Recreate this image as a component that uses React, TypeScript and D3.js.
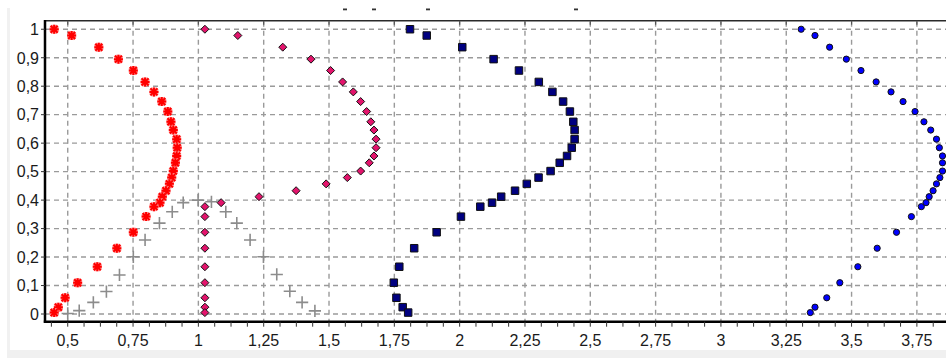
import React from 'react';
import * as d3 from 'd3';

// ---- data ----
const profileY = [1.0, 0.978, 0.937, 0.895, 0.855, 0.815, 0.78, 0.746, 0.711, 0.675, 0.646, 0.614, 0.584, 0.555, 0.531, 0.502, 0.479, 0.457, 0.433, 0.412, 0.391, 0.377, 0.342, 0.287, 0.231, 0.166, 0.11, 0.057, 0.024, 0.005];

const redStarX = [0.448, 0.515, 0.619, 0.694, 0.751, 0.796, 0.83, 0.86, 0.883, 0.895, 0.904, 0.917, 0.919, 0.917, 0.912, 0.904, 0.898, 0.889, 0.876, 0.862, 0.853, 0.83, 0.8, 0.751, 0.688, 0.613, 0.538, 0.49, 0.464, 0.448];

const diamondX = [1.025, 1.151, 1.323, 1.431, 1.506, 1.552, 1.593, 1.621, 1.644, 1.66, 1.672, 1.68, 1.68, 1.672, 1.654, 1.621, 1.57, 1.489, 1.374, 1.232, 1.087, 1.025, 1.025, 1.025, 1.025, 1.025, 1.025, 1.025, 1.025, 1.025];

const squareX = [1.81, 1.874, 2.01, 2.13, 2.227, 2.303, 2.355, 2.396, 2.422, 2.435, 2.44, 2.44, 2.429, 2.411, 2.383, 2.348, 2.302, 2.257, 2.212, 2.159, 2.124, 2.079, 2.005, 1.912, 1.826, 1.769, 1.748, 1.758, 1.782, 1.803];

const circleX = [3.307, 3.36, 3.416, 3.48, 3.536, 3.594, 3.651, 3.697, 3.743, 3.777, 3.803, 3.825, 3.836, 3.848, 3.848, 3.848, 3.838, 3.825, 3.812, 3.797, 3.785, 3.767, 3.729, 3.672, 3.598, 3.524, 3.455, 3.405, 3.36, 3.342];

const plusX = [0.5, 0.544, 0.598, 0.648, 0.698, 0.751, 0.796, 0.851, 0.9, 0.942, 0.999, 1.05, 1.105, 1.147, 1.198, 1.249, 1.3, 1.35, 1.397, 1.446];
const plusY = [0.002, 0.012, 0.041, 0.079, 0.137, 0.201, 0.26, 0.319, 0.359, 0.391, 0.4, 0.394, 0.359, 0.319, 0.26, 0.201, 0.139, 0.08, 0.041, 0.011];

const xTicks = [0.5, 0.75, 1, 1.25, 1.5, 1.75, 2, 2.25, 2.5, 2.75, 3, 3.25, 3.5, 3.75, 4];
const yTicks = [0, 0.1, 0.2, 0.3, 0.4, 0.5, 0.6, 0.7, 0.8, 0.9, 1];

const fmt = (v: number) => String(v).replace('.', ',');

// custom marker shapes for d3.symbol
const starType = {
  draw(ctx: any, size: number) {
    const r = Math.sqrt(size) / 2;
    const d = r * 0.78;
    ctx.moveTo(-r, 0); ctx.lineTo(r, 0);
    ctx.moveTo(0, -r); ctx.lineTo(0, r);
    ctx.moveTo(-d, -d); ctx.lineTo(d, d);
    ctx.moveTo(-d, d); ctx.lineTo(d, -d);
  },
};
const plusType = {
  draw(ctx: any, size: number) {
    const r = Math.sqrt(size) / 2;
    ctx.moveTo(-r, 0); ctx.lineTo(r, 0);
    ctx.moveTo(0, -r); ctx.lineTo(0, r);
  },
};
const diamondType = {
  draw(ctx: any, size: number) {
    const r = Math.sqrt(size) / 2;
    ctx.moveTo(0, -r); ctx.lineTo(r, 0); ctx.lineTo(0, r); ctx.lineTo(-r, 0); ctx.closePath();
  },
};

export default function App() {
  const W = 946, H = 358;
  const left = 45, top = 20.7, bottom = 321.7;
  const x = d3.scaleLinear().domain([0.413, 3.915]).range([left, 960]);
  const y = d3.scaleLinear().domain([-0.027, 1.03]).range([bottom, top]);

  const star = d3.symbol().type(starType as any).size(81)();
  const plus = d3.symbol().type(plusType as any).size(150)();
  const diamond = d3.symbol().type(diamondType as any).size(64)();
  const square = d3.symbol().type(d3.symbolSquare).size(56)();

  const minorX = d3.range(Math.ceil(0.413 / 0.0625), Math.floor(3.915 / 0.0625) + 1).map((k) => k * 0.0625);

  const font = '"Liberation Sans", Arial, sans-serif';

  return (
    <svg width={W} height={H} style={{ position: 'absolute', left: 0, top: 0 }} xmlns="http://www.w3.org/2000/svg">
      <rect x={0} y={0} width={W} height={H} fill="#ffffff" />
      <rect x={7} y={8} width={3} height={H - 8} fill="#f1f1f1" />
      <rect x={7} y={350} width={W - 7} height={8} fill="#f0f0f0" />
      {[345, 374, 428, 576].map((px, i) => (
        <rect key={'tm' + i} x={px - 2} y={8.5} width={4} height={1.8} fill="#333" />
      ))}
      <defs>
        <clipPath id="plot">
          <rect x={left} y={top} width={W - left} height={bottom - top} />
        </clipPath>
      </defs>

      {/* grid */}
      <g stroke="#9a9a9a" strokeWidth={1.4} strokeDasharray="5,4" fill="none">
        {xTicks.map((v) => (
          <line key={'gx' + v} x1={x(v)} x2={x(v)} y1={top + 1} y2={bottom} />
        ))}
        {yTicks.map((v) => (
          <line key={'gy' + v} x1={left} x2={W} y1={y(v)} y2={y(v)} />
        ))}
      </g>

      {/* top border with ticks */}
      <line x1={left} x2={W} y1={top} y2={top} stroke="#2a2a2a" strokeWidth={1.5} />
      {xTicks.map((v) => (
        <line key={'tt' + v} x1={x(v)} x2={x(v)} y1={top} y2={top + 4} stroke="#555" strokeWidth={1.2} />
      ))}

      {/* series */}
      <g clipPath="url(#plot)">
        {plusX.map((v, i) => (
          <path key={'p' + i} d={plus} transform={`translate(${x(v)},${y(plusY[i])})`} stroke="#8c8c8c" strokeWidth={1.6} fill="none" />
        ))}
        {redStarX.map((v, i) => (
          <g key={'r' + i} transform={`translate(${x(v)},${y(profileY[i])})`}>
            <path d={star} stroke="#ff9090" strokeWidth={3.4} fill="none" />
            <path d={star} stroke="#ff0000" strokeWidth={2} fill="none" />
          </g>
        ))}
        {diamondX.map((v, i) => (
          <path key={'d' + i} d={diamond} transform={`translate(${x(v)},${y(profileY[i])})`} fill="#e3146c" stroke="#111" strokeWidth={1} />
        ))}
        {squareX.map((v, i) => (
          <path key={'s' + i} d={square} transform={`translate(${x(v)},${y(profileY[i])})`} fill="#000080" stroke="#111" strokeWidth={1} />
        ))}
        {circleX.map((v, i) => (
          <circle key={'c' + i} cx={x(v)} cy={y(profileY[i])} r={3.1} fill="#0000ff" stroke="#111" strokeWidth={1} />
        ))}
      </g>

      {/* axes */}
      <line x1={left} x2={left} y1={top - 0.7} y2={bottom + 1} stroke="#000" strokeWidth={2.5} />
      <line x1={left - 1.2} x2={W} y1={bottom} y2={bottom} stroke="#000" strokeWidth={2.5} />
      {minorX.map((v) => (
        <line key={'mx' + v} x1={x(v)} x2={x(v)} y1={bottom} y2={bottom + 5} stroke="#333" strokeWidth={1} />
      ))}
      {yTicks.map((v) => (
        <line key={'ty' + v} x1={left - 4} x2={left} y1={y(v)} y2={y(v)} stroke="#333" strokeWidth={1} />
      ))}

      {/* labels */}
      <g fontFamily={font} fontSize={16} fill="#1a1a1a">
        {xTicks.filter((v) => x(v) < W - 10).map((v) => (
          <text key={'lx' + v} x={x(v)} y={346} textAnchor="middle">{fmt(v)}</text>
        ))}
        {yTicks.map((v) => (
          <text key={'ly' + v} x={39} y={y(v) + 5.8} textAnchor="end">{fmt(v)}</text>
        ))}
      </g>
    </svg>
  );
}
